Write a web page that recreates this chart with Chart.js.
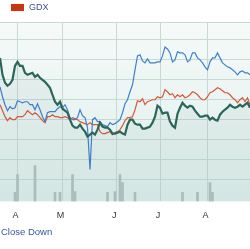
<!DOCTYPE html>
<html>
<head>
<meta charset="utf-8">
<script src="https://cdn.jsdelivr.net/npm/chart.js@4.4.1/dist/chart.umd.min.js"></script>
<style>
  body { margin: 0; background: #fff; font-family: 'Liberation Sans', Arial, sans-serif; }
  #wrap { position: relative; width: 250px; height: 249px; overflow: hidden; }
  #legend { position: absolute; left: 11px; top: 2px; font-size: 9px; line-height: 11px; color: #3d4f8f; }
  #legend .box { display: inline-block; width: 13px; height: 7px; background: #cc3311; vertical-align: -0.5px; margin-right: 5px; }
  #plot { position: absolute; left: 0; top: 0; width: 250px; height: 234px; }
  #note { position: absolute; left: 1px; top: 226px; font-size: 9.5px; line-height: 11px; color: #3556a8; }
</style>
</head>
<body>
<div id="wrap">
  <div id="plot"><canvas id="chart"></canvas></div>
  <div id="legend"><span class="box"></span>GDX</div>
  <div id="note">Close Down</div>
</div>
<script>
// trading days, 0..100
const days = Array.from({ length: 101 }, (_, i) => i);

// month gridlines and their labels
const monthDays = [7, 25, 46.5, 64, 83];
const monthLabels = ['A', 'M', 'J', 'J', 'A'];

// horizontal grid levels (% change)
const gridLevels = [-30, -20, -10, 0, 10, 20, 30, 40, 49];

// % change
const stockChange = [
  31, 22.5, 18.5, 17, 18, 20, 27, 29, 27, 27,
  23.5, 22.5, 23, 23.5, 21.5, 22.5, 21, 20, 19, 17.5,
  16, 12.5, 9, 7.5, 9, 5.5, 4.5, 3.5, 0, -3,
  -4, -4, -2.5, -4.5, -6, -8.5, -7.5, -6.5, -7.5, -5,
  -1.5, -3.5, -4, -4, -5, -7, -7, -6.5, -6, -7,
  -7.5, -2.5, 0, 0, -2, -2.5, -2.5, -4.5, -4.5, -4,
  -3.5, -1.5, 1.5, 7, 6, 3, 3.5, 3.5, -1, -3,
  -4, 3, 6, 8.5, 7, 6, 7, 6.5, 4.5, 3,
  1.5, 1.5, 2, 2, 0, 1, 0, -0.5, 2.5, 4,
  5, 6, 7.5, 6.5, 6, 6.5, 7.5, 6.5, 7.5, 8.5,
  6
];

const indexChange = [
  16.5, 11.5, 7.5, 4.5, 6.5, 5.5, 6, 9.5, 9, 8.5,
  9, 9, 7.5, 7.5, 5, 8, 5, 1.5, -1, 3.5,
  4, 4, 4, 5.5, 6.5, 6, 7.5, 5, 1, 0,
  0, 1, 5, 2, 1, -4, -25, 0, 1, -1,
  -1, -2.5, -3, -3.5, -1.5, -2.5, -2, -1, 0, 3.5,
  8, 10, 14, 17.5, 25, 32, 32.5, 29.5, 28.5, 30.5,
  28.5, 28.5, 28.5, 29, 29, 32, 36.5, 35.5, 33.5, 29,
  30, 34, 33.5, 33.5, 32.5, 29, 30, 33.5, 33.5, 31,
  30, 28.5, 26.5, 25, 29, 31, 31, 33.5, 31, 28.5,
  27.5, 26.5, 26, 25, 24, 22.5, 24, 24.5, 23.5, 23.5,
  22.5
];

const gdxChange = [
  7.5, 4.5, 1.5, -0.5, 1, 0, 0, 1.5, 1.5, 1.5,
  2.5, 4.5, 3.5, 2.5, 3.5, 2.5, 1, -0.5, -1.5, 1.5,
  1.5, 2.5, 1.5, 1.5, 1, 1, 1.5, 1, 0, 1,
  0.5, 0, -1, -1.5, -2, -2.5, -1.5, -2.5, -2.5, -2.5,
  -6, -7, -7, -6.5, -6, -7.5, -6.5, -6, -5, -3,
  -0.5, 1, 1, 1.5, 5, 9.5, 9, 10.5, 7.5, 9,
  9.5, 10, 10, 11.5, 11, 11.5, 15, 14, 12.5, 13,
  11, 12.5, 11.5, 12.5, 11, 11.5, 12.5, 14, 13.5, 12.5,
  11, 10, 10, 11.5, 13.5, 14, 15, 16, 15.5, 14.5,
  13.5, 13.5, 12.5, 11, 10, 8.5, 10, 11, 9, 11,
  7.5
];

// volume spikes (days with visible volume, in millions)
const volumeDays = [6, 7, 14, 22, 24, 29, 30, 43, 46, 48, 49, 54, 73, 79, 84, 85];
const volumeValues = [5, 15, 20, 5, 5, 15, 5.5, 5, 5.5, 15, 10.5, 5, 5, 5, 10.5, 5];

const toPoints = (xs, ys) => xs.map((x, i) => ({ x, y: ys[i] }));

const areaBackground = {
  id: 'areaBackground',
  beforeDraw(chart) {
    const { ctx, chartArea: a } = chart;
    const g = ctx.createLinearGradient(0, a.top, 0, a.bottom);
    g.addColorStop(0, '#f6faf9');
    g.addColorStop(1, '#ddeeea');
    ctx.save();
    ctx.fillStyle = g;
    ctx.fillRect(a.left, a.top, a.right - a.left, a.bottom - a.top);
    ctx.restore();
  }
};

new Chart(document.getElementById('chart'), {
  type: 'line',
  data: {
    datasets: [
      {
        label: 'Close',
        data: toPoints(days, stockChange),
        borderColor: '#2b6659',
        backgroundColor: 'rgba(44, 106, 92, 0.05)',
        borderWidth: 2.2,
        fill: 'start',
        yAxisID: 'y'
      },
      {
        label: 'Index',
        data: toPoints(days, indexChange),
        borderColor: '#3f7fd0',
        borderWidth: 1.2,
        fill: false,
        yAxisID: 'y'
      },
      {
        label: 'GDX',
        data: toPoints(days, gdxChange),
        borderColor: '#d8593a',
        borderWidth: 1.2,
        fill: false,
        yAxisID: 'y'
      },
      {
        type: 'bar',
        label: 'Volume',
        data: toPoints(volumeDays, volumeValues),
        backgroundColor: '#b4c1be',
        barThickness: 2,
        yAxisID: 'yVol'
      }
    ]
  },
  options: {
    responsive: true,
    maintainAspectRatio: false,
    animation: false,
    layout: { padding: { top: 22, left: 0, right: 0, bottom: 3.8 } },
    elements: { point: { radius: 0 }, line: { tension: 0 } },
    plugins: { legend: { display: false }, tooltip: { enabled: false } },
    scales: {
      x: {
        type: 'linear',
        min: 0,
        max: 100,
        offset: false,
        afterBuildTicks: s => { s.ticks = monthDays.map(v => ({ value: v })); },
        ticks: {
          callback: (v, i) => monthLabels[i],
          color: '#333',
          font: { family: 'Liberation Sans', size: 9 },
          padding: 9,
          labelOffset: -2,
          maxRotation: 0,
          autoSkip: false
        },
        grid: { color: '#c6d9d5', drawTicks: false, offset: false },
        border: { display: false }
      },
      y: {
        min: -41,
        max: 49,
        afterBuildTicks: s => { s.ticks = gridLevels.map(v => ({ value: v })); },
        afterFit: s => { s.width = 0; },
        ticks: { display: false },
        grid: { color: '#c6d9d5', drawTicks: false },
        border: { display: false }
      },
      yVol: {
        axis: 'y',
        position: 'right',
        display: false,
        min: 0,
        max: 100
      }
    }
  },
  plugins: [areaBackground]
});
</script>
</body>
</html>
